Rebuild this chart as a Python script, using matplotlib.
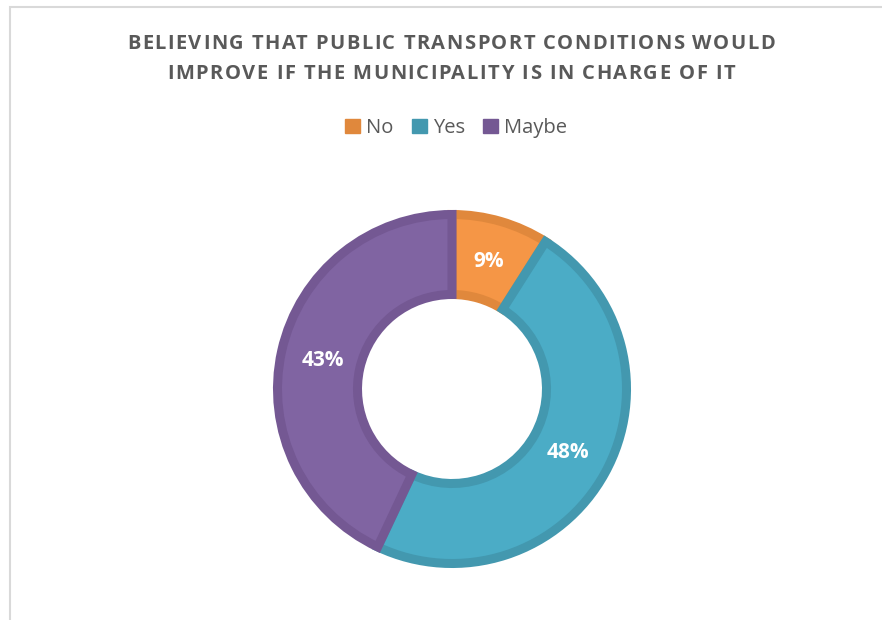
import matplotlib.pyplot as plt
from matplotlib.patches import Patch, Rectangle

# Data
categories = ["No", "Yes", "Maybe"]
values = [9, 48, 43]
fill_colors = ["#F59646", "#4BACC6", "#8064A2"]
edge_colors = ["#E0883C", "#4398AF", "#745893"]

title_lines = ["BELIEVING THAT PUBLIC TRANSPORT CONDITIONS WOULD",
               "IMPROVE IF THE MUNICIPALITY IS IN CHARGE OF IT"]

W, H = 882, 620
fig = plt.figure(figsize=(W / 100, H / 100), dpi=100)
fig.patch.set_facecolor("white")
renderer = fig.canvas.get_renderer()


def spaced_text(s, xc, y, spacing, **kw):
    # draw text char by char with extra letter spacing (pixels), centred on xc
    def width(t):
        tmp = fig.text(0, 0, t, **kw)
        w = tmp.get_window_extent(renderer).width
        tmp.remove()
        return w
    total = width(s) + spacing * (len(s) - 1)
    left = xc - total / 2
    for i, ch in enumerate(s):
        if ch == " ":
            continue
        x = left + width(s[:i + 1]) - width(ch) + spacing * i
        fig.text(x / W, 1 - y / H, ch, ha="left", va="center", **kw)


# chart area border (only left and top visible in the reference)
fig.add_artist(Rectangle((10 / W, -0.1), 1.2, 1 - 7 / H + 0.1, transform=fig.transFigure,
                         fill=False, edgecolor="#D9D9D9", linewidth=1.5))

# donut axes, centred on the ring
cx, cy, size = 452, 389, 400
ax = fig.add_axes([(cx - size / 2) / W, 1 - (cy + size / 2) / H, size / W, size / H])
ax.axis("off")

wedges, texts, autotexts = ax.pie(
    values, colors=fill_colors, startangle=90, counterclock=False,
    radius=0.8725, autopct=lambda p: f"{p:.0f}%", pctdistance=0.76,
    wedgeprops=dict(width=0.40, linewidth=6.5),
    textprops=dict(color="white", fontsize=15, fontweight="bold", family="Open Sans"),
)
for w, ec in zip(wedges, edge_colors):
    w.set_edgecolor(ec)
    w.set_joinstyle("miter")
ax.set_xlim(-1, 1)
ax.set_ylim(-1, 1)

title_kw = dict(fontsize=14.5, fontweight="bold", color="#595959", family="Open Sans")
spaced_text(title_lines[0], 451, 44, 1.5, **title_kw)
spaced_text(title_lines[1], 451, 74, 1.5, **title_kw)

handles = [Patch(facecolor=c, edgecolor=c) for c in edge_colors]
fig.legend(handles, categories, loc="center", bbox_to_anchor=(456 / W, 1 - 128 / H),
           ncol=3, frameon=False, handlelength=0.75, handleheight=0.75,
           handletextpad=0.3, columnspacing=0.9, prop=dict(family="Open Sans", size=14.5),
           labelcolor="#595959")

fig.savefig("out.png", dpi=100)
